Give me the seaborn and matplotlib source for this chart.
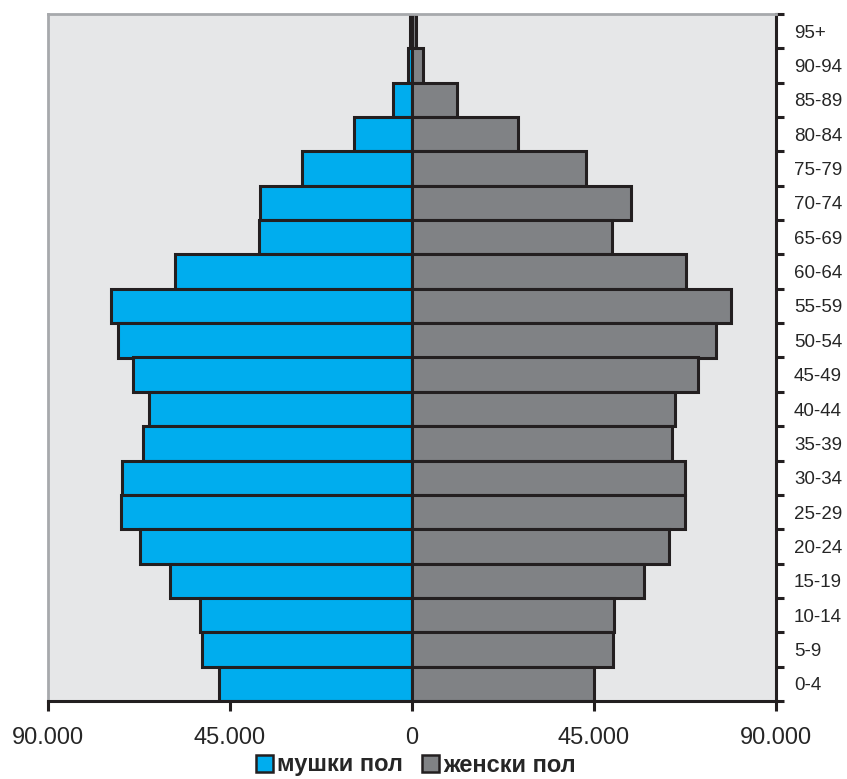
import matplotlib
matplotlib.use("Agg")
import matplotlib.pyplot as plt
from matplotlib.patches import Patch
from matplotlib.ticker import FixedLocator, FuncFormatter
import numpy as np
import pandas as pd
import seaborn as sns

# Age groups, oldest first so they stack from the top down
age_groups = ["95+", "90-94", "85-89", "80-84", "75-79", "70-74", "65-69",
              "60-64", "55-59", "50-54", "45-49", "40-44", "35-39", "30-34",
              "25-29", "20-24", "15-19", "10-14", "5-9", "0-4"]

# Population counts per age group
male = [500, 1100, 4600, 14300, 27100, 37500, 37800,
        58600, 74500, 72700, 68900, 65000, 66400, 71700,
        71900, 67300, 59800, 52500, 51900, 47600]
female = [1000, 2600, 11100, 26100, 43100, 54200, 49500,
          67700, 78800, 75200, 70700, 65100, 64300, 67400,
          67600, 63500, 57300, 49900, 49600, 45000]

sex_labels = ["мушки пол", "женски пол"]
x_ticks = [-90000, -45000, 0, 45000, 90000]

blue = "#00ADEE"
grey = "#808285"
edge = "#231F20"

df = pd.concat([
    pd.DataFrame({"age": age_groups, "count": -np.array(male), "sex": sex_labels[0]}),
    pd.DataFrame({"age": age_groups, "count": np.array(female), "sex": sex_labels[1]}),
])

sns.set_theme(style="white")
plt.rcParams["font.family"] = ["Liberation Sans", "DejaVu Sans"]

fig = plt.figure(figsize=(8.47, 7.79), dpi=100)
ax = fig.add_axes([48 / 847, 1 - 701 / 779, (776 - 48) / 847, (701 - 14) / 779])
ax.set_facecolor("#E6E7E8")

sns.barplot(data=df, x="count", y="age", hue="sex", order=age_groups,
            hue_order=sex_labels, palette=[blue, grey], dodge=False,
            saturation=1, width=1.0, edgecolor=edge, linewidth=2.2,
            orient="h", ax=ax)
if ax.get_legend() is not None:
    ax.get_legend().remove()

ax.set_xlim(-90000, 90000)
ax.set_ylim(len(age_groups) - 0.5, -0.5)
ax.set_xlabel("")
ax.set_ylabel("")

# x axis: absolute values with dot as thousands separator
ax.xaxis.set_major_locator(FixedLocator(x_ticks))
ax.xaxis.set_major_formatter(FuncFormatter(
    lambda v, p: "0" if v == 0 else f"{abs(int(v)):,}".replace(",", ".")))
ax.tick_params(axis="x", which="major", direction="out", length=7, width=2.2,
               color=edge, labelsize=17, pad=12, bottom=True)

# y axis on the right: labels at centres, ticks at group boundaries
ax.yaxis.tick_right()
ax.yaxis.set_minor_locator(FixedLocator(np.arange(-0.5, len(age_groups), 1.0)))
ax.tick_params(axis="y", which="major", length=0, labelsize=13.5, pad=13,
               right=True, left=False)
ax.tick_params(axis="y", which="minor", direction="out", length=6, width=2.2,
               color=edge, right=True, left=False)

for side in ["left", "top"]:
    ax.spines[side].set_visible(True)
    ax.spines[side].set_color("#A7A9AC")
    ax.spines[side].set_linewidth(2)
for side in ["bottom", "right"]:
    ax.spines[side].set_visible(True)
    ax.spines[side].set_color(edge)
    ax.spines[side].set_linewidth(2.2)

handles = [Patch(facecolor=blue, edgecolor=edge, linewidth=1.8),
           Patch(facecolor=grey, edgecolor=edge, linewidth=1.8)]
fig.legend(handles, sex_labels, loc="center", ncol=2,
           bbox_to_anchor=(416 / 847, 1 - 765 / 779), frameon=False,
           prop={"size": 17, "weight": "bold"}, handlelength=0.7,
           handleheight=0.7, handletextpad=0.2, columnspacing=0.8,
           borderpad=0, borderaxespad=0)

fig.savefig("out.png", dpi=100, facecolor="white")
